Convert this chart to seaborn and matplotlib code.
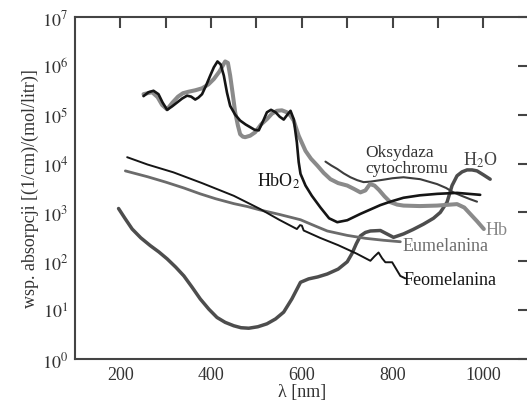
import numpy as np
import pandas as pd
import matplotlib
matplotlib.use("Agg")
import matplotlib.pyplot as plt
import seaborn as sns

# ---- data (y = log10 of absorption coefficient) ----
hbo2_x = [251, 262, 273, 284, 293, 303, 314, 325, 336, 347, 356, 365, 372, 380, 389, 398, 406, 414, 421, 428, 435, 442, 453, 464, 476, 487, 496, 505, 516, 523, 532, 542, 551, 560, 568, 575, 582, 589, 593, 597, 608, 622, 641, 660, 678, 700, 729, 751, 773, 795, 824, 860, 898, 942, 993]
hbo2_lg = [5.38, 5.46, 5.49, 5.42, 5.25, 5.10, 5.17, 5.25, 5.33, 5.39, 5.37, 5.31, 5.35, 5.42, 5.60, 5.80, 5.97, 6.09, 6.03, 5.80, 5.45, 5.18, 5.00, 4.88, 4.80, 4.74, 4.69, 4.68, 4.90, 5.05, 5.10, 5.05, 4.96, 4.90, 5.00, 5.08, 4.91, 4.43, 4.03, 3.79, 3.55, 3.34, 3.10, 2.88, 2.80, 2.84, 2.97, 3.06, 3.15, 3.22, 3.30, 3.35, 3.38, 3.40, 3.36]

hb_x = [251, 260, 270, 282, 292, 303, 315, 327, 338, 350, 365, 380, 394, 406, 418, 431, 437, 442, 448, 453, 459, 464, 470, 475, 486, 497, 510, 523, 534, 545, 556, 567, 575, 582, 593, 608, 620, 634, 648, 663, 680, 700, 715, 729, 740, 750, 760, 770, 782, 795, 810, 824, 860, 898, 942, 958, 971, 986, 1001]
hb_lg = [5.42, 5.44, 5.46, 5.36, 5.20, 5.11, 5.25, 5.37, 5.44, 5.47, 5.50, 5.54, 5.62, 5.73, 5.88, 6.09, 6.06, 5.80, 5.40, 5.05, 4.78, 4.60, 4.55, 4.54, 4.57, 4.64, 4.80, 4.91, 5.02, 5.08, 5.09, 5.05, 4.98, 4.88, 4.57, 4.26, 4.10, 3.96, 3.81, 3.68, 3.60, 3.55, 3.48, 3.41, 3.45, 3.58, 3.55, 3.46, 3.33, 3.21, 3.16, 3.14, 3.13, 3.14, 3.17, 3.10, 2.97, 2.82, 2.66]

cyt_x = [652, 665, 678, 692, 707, 722, 736, 751, 780, 800, 824, 861, 898, 918, 934, 952, 971, 986]
cyt_lg = [4.04, 3.96, 3.89, 3.80, 3.72, 3.66, 3.62, 3.63, 3.67, 3.70, 3.72, 3.68, 3.58, 3.50, 3.41, 3.34, 3.27, 3.22]

h2o_x = [196, 210, 226, 245, 266, 285, 303, 322, 340, 358, 376, 395, 413, 431, 450, 466, 483, 503, 523, 542, 560, 578, 597, 615, 635, 656, 680, 700, 710, 720, 729, 740, 751, 773, 802, 824, 845, 868, 890, 905, 920, 931, 942, 953, 964, 975, 986, 1000, 1015]
h2o_lg = [3.08, 2.88, 2.66, 2.48, 2.32, 2.19, 2.05, 1.88, 1.70, 1.47, 1.23, 1.02, 0.85, 0.75, 0.68, 0.64, 0.63, 0.66, 0.72, 0.82, 0.96, 1.23, 1.57, 1.64, 1.68, 1.74, 1.84, 1.99, 2.15, 2.36, 2.52, 2.59, 2.62, 2.63, 2.49, 2.56, 2.65, 2.76, 2.88, 3.00, 3.21, 3.55, 3.75, 3.83, 3.87, 3.87, 3.85, 3.77, 3.68]

eu_x = [211, 260, 300, 340, 376, 410, 450, 480, 508, 550, 597, 630, 656, 700, 740, 780, 817]
eu_lg = [3.85, 3.73, 3.62, 3.50, 3.38, 3.28, 3.18, 3.12, 3.05, 2.96, 2.85, 2.72, 2.62, 2.53, 2.47, 2.43, 2.40]

feo_x = [215, 260, 317, 380, 450, 508, 550, 589, 596, 600, 604, 640, 680, 720, 751, 760, 769, 777, 784, 799, 808, 817, 828]
feo_lg = [4.13, 3.98, 3.82, 3.60, 3.34, 3.07, 2.85, 2.66, 2.74, 2.73, 2.63, 2.48, 2.33, 2.16, 2.01, 2.10, 2.18, 2.06, 1.98, 1.98, 1.84, 1.70, 1.65]

x_ticks = [200, 300, 400, 500, 600, 700, 800, 900, 1000]
x_tick_labels = ["200", "", "400", "", "600", "", "800", "", "1000"]
y_ticks = [1e0, 1e1, 1e2, 1e3, 1e4, 1e5, 1e6, 1e7]

sns.set_theme(style="white")
plt.rcParams["font.family"] = ["Liberation Serif", "DejaVu Serif"]
plt.rcParams["mathtext.fontset"] = "stix"

fig = plt.figure(figsize=(5.27, 4.06), dpi=100)
ax = fig.add_axes([0.1423, 0.1133, 0.861, 0.8424])

def draw(xs, lgs, color, lw):
    df = pd.DataFrame({"x": xs, "y": np.power(10.0, lgs)})
    sns.lineplot(data=df, x="x", y="y", ax=ax, color=color, linewidth=lw,
                 sort=False, estimator=None, solid_joinstyle="round",
                 solid_capstyle="round")

draw(h2o_x, h2o_lg, "#4d4d4d", 2.5)
draw(eu_x, eu_lg, "#6b6b6b", 2.0)
draw(feo_x, feo_lg, "#151515", 1.4)
draw(cyt_x, cyt_lg, "#3d3d3d", 1.5)
draw(hb_x, hb_lg, "#8a8a8a", 2.9)
draw(hbo2_x, hbo2_lg, "#151515", 1.9)

ax.set_yscale("log")
ax.set_xlim(100, 1100)
ax.set_ylim(1, 1e7)
ax.set_xticks(x_ticks)
ax.set_xticklabels(x_tick_labels)
ax.set_yticks(y_ticks)
ax.set_yticklabels([r"$10^{%d}$" % int(np.log10(v)) for v in y_ticks])
ax.minorticks_off()
ax.tick_params(axis="both", direction="in", length=8, width=1.5, color="#444444",
               labelsize=13, labelcolor="#333333", top=True, right=True, pad=5)
for s in ax.spines.values():
    s.set_color("#444444")
    s.set_linewidth(1.5)

ax.set_xlabel("λ [nm]", fontsize=13, color="#333333", labelpad=0)
ax.set_ylabel("wsp. absorpcji [(1/cm)/(mol/litr)]", fontsize=13, color="#333333", labelpad=2)

ax.text(501, 3.6e3, r"HbO$_2$", color="#151515", fontsize=13)
ax.text(740, 1.45e4, "Oksydaza", color="#333333", fontsize=12.5)
ax.text(740, 6.6e3, "cytochromu", color="#333333", fontsize=12.5)
ax.text(956, 9.5e3, r"H$_2$O", color="#444444", fontsize=13)
ax.text(1004, 3.7e2, "Hb", color="#888888", fontsize=13)
ax.text(821, 1.7e2, "Eumelanina", color="#6e6e6e", fontsize=13)
ax.text(825, 35, "Feomelanina", color="#151515", fontsize=13)

fig.savefig("out.png", dpi=100)
